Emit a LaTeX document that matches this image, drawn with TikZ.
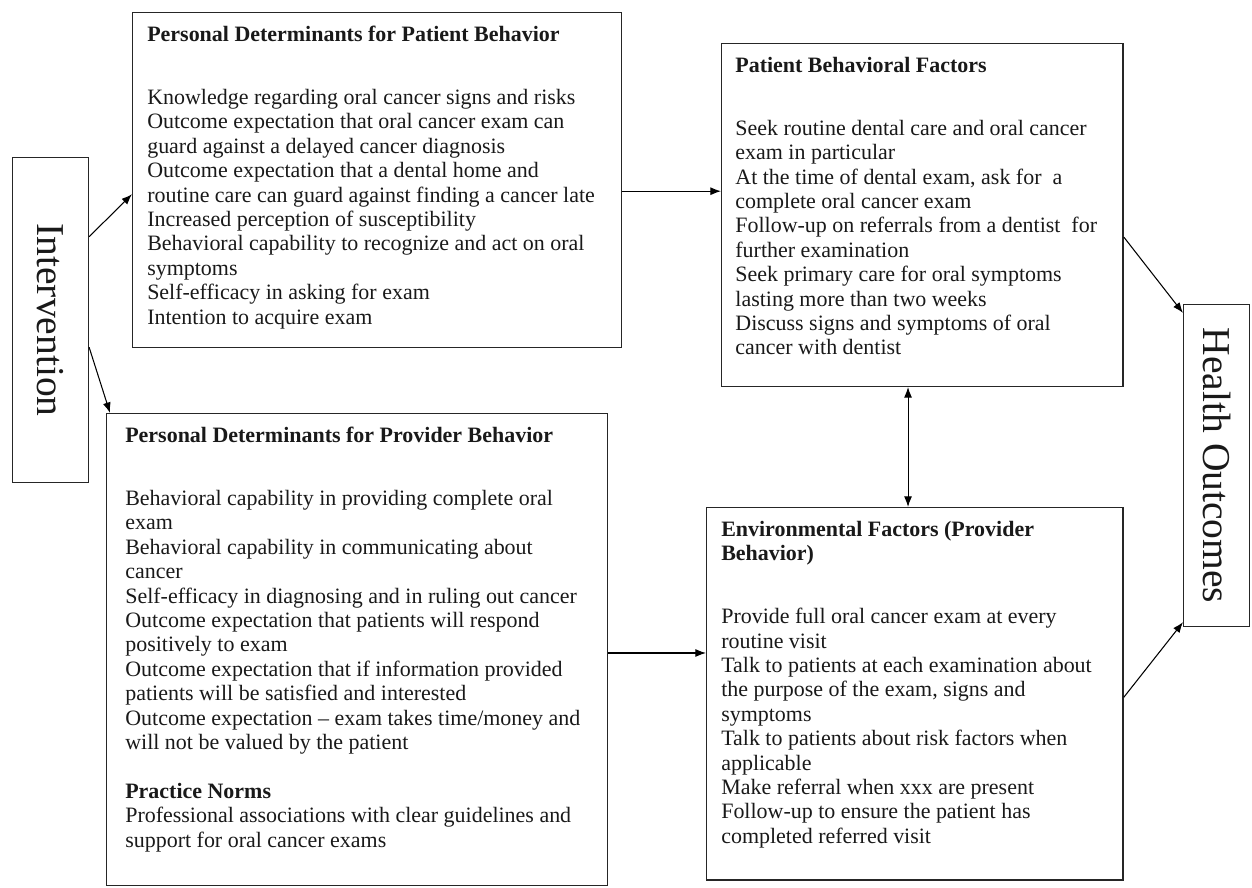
\documentclass[tikz,border=0pt]{standalone}
\usepackage{fontspec}
\setmainfont{Liberation Serif}
\usetikzlibrary{arrows.meta}

\begin{document}
\begin{tikzpicture}[x=0.02cm,y=-0.02cm,
    box/.style={draw=black!85,line width=0.8pt,anchor=north west,inner sep=0pt},
    boxtext/.style={anchor=north west,align=left,inner sep=0pt,text=black!90,font=\fontsize{12.5}{13.9}\selectfont},
    sidetext/.style={rotate=-90,inner sep=0pt,text=black!90,font=\fontsize{22.5}{26}\selectfont},
    arr/.style={-{Latex[length=6pt,width=4.5pt]},line width=0.6pt},
    dblarr/.style={{Latex[length=6pt,width=4.5pt]}-{Latex[length=6pt,width=4.5pt]},line width=0.6pt}]

\useasboundingbox (0,0) rectangle (1252,888);

% the six boxes
\node[box,minimum width=43.1pt,minimum height=184.8pt] (interv) at (12,157) {};
\node[box,minimum width=278.3pt,minimum height=190.5pt] (ppat) at (132,12) {};
\node[box,minimum width=228.5pt,minimum height=195pt] (pbeh) at (721,43) {};
\node[box,minimum width=37.4pt,minimum height=183.1pt] (hout) at (1183,304) {};
\node[box,minimum width=285.2pt,minimum height=268.7pt] (pprov) at (106,413) {};
\node[box,minimum width=237pt,minimum height=212pt] (env) at (706,507) {};

% side labels
\node[sidetext] (intervlbl) at (interv.center) {Intervention};
\node[sidetext] (houtlbl) at (hout.center) {Health Outcomes};

% box texts
\node[boxtext] (ppattxt) at ([xshift=8.5pt,yshift=-7.9pt]ppat.north west) {\textbf{Personal Determinants for Patient Behavior}\\[21.8pt]
Knowledge regarding oral cancer signs and risks\\
Outcome expectation that oral cancer exam can\\
guard against a delayed cancer diagnosis\\
Outcome expectation that a dental home and\\
routine care can guard against finding a cancer late\\
Increased perception of susceptibility\\
Behavioral capability to recognize and act on oral\\
symptoms\\
Self-efficacy in asking for exam\\
Intention to acquire exam};

\node[boxtext] (pbehtxt) at ([xshift=8pt,yshift=-7.9pt]pbeh.north west) {\textbf{Patient Behavioral Factors}\\[21.8pt]
Seek routine dental care and oral cancer\\
exam in particular\\
At the time of dental exam, ask for\ \ a\\
complete oral cancer exam\\
Follow-up on referrals from a dentist\ \ for\\
further examination\\
Seek primary care for oral symptoms\\
lasting more than two weeks\\
Discuss signs and symptoms of oral\\
cancer with dentist};

\node[boxtext] (pprovtxt) at ([xshift=10.8pt,yshift=-7.9pt]pprov.north west) {\textbf{Personal Determinants for Provider Behavior}\\[21.8pt]
Behavioral capability in providing complete oral\\
exam\\
Behavioral capability in communicating about\\
cancer\\
Self-efficacy in diagnosing and in ruling out cancer\\
Outcome expectation that patients will respond\\
positively to exam\\
Outcome expectation that if information provided\\
patients will be satisfied and interested\\
Outcome expectation -- exam takes time/money and\\
will not be valued by the patient\\[13.9pt]
\textbf{Practice Norms}\\
Professional associations with clear guidelines and\\
support for oral cancer exams};

\node[boxtext] (envtxt) at ([xshift=8.5pt,yshift=-7.9pt]env.north west) {\textbf{Environmental Factors (Provider}\\
\textbf{Behavior)}\\[21.8pt]
Provide full oral cancer exam at every\\
routine visit\\
Talk to patients at each examination about\\
the purpose of the exam, signs and\\
symptoms\\
Talk to patients about risk factors when\\
applicable\\
Make referral when xxx are present\\
Follow-up to ensure the patient has\\
completed referred visit};

% connectors
\coordinate (c3) at ([yshift=-102pt]ppat.north east);
\coordinate (c4) at ([xshift=-8.2pt]pbeh.south);
\coordinate (c5) at ([yshift=-136.6pt]pprov.north east);

\draw[arr] ([yshift=-45.4pt]interv.north east) -- ([yshift=-103.7pt]ppat.north west);
\draw[arr] ([yshift=-108.3pt]interv.north east) -- ([xshift=2.3pt]pprov.north west);
\draw[arr] (c3) -- (c3 -| pbeh.west);
\draw[dblarr] (c4) -- (c4 |- env.north);
\draw[arr] (c5) -- (c5 -| env.west);
\draw[arr] ([yshift=-110.5pt]pbeh.north east) -- ([yshift=-5.1pt]hout.north west);
\draw[arr] ([yshift=-108.3pt]env.north east) -- ([yshift=2.8pt]hout.south west);

\end{tikzpicture}
\end{document}
